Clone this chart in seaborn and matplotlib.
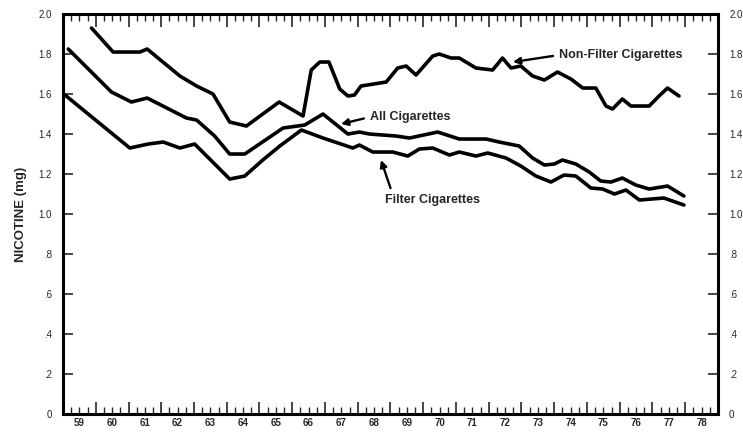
import numpy as np
import pandas as pd
import matplotlib
matplotlib.use("Agg")
import matplotlib.pyplot as plt
import seaborn as sns

# Sales-weighted nicotine per cigarette (year, mg)
nonfilter_year = [1959.87, 1960.53, 1961.35, 1961.57, 1962.57, 1963.08, 1963.58, 1964.09,
                  1964.60, 1965.60, 1966.33, 1966.58, 1966.84, 1967.12, 1967.45, 1967.70,
                  1967.90, 1968.10, 1968.87, 1969.22, 1969.48, 1969.78, 1970.29, 1970.49,
                  1970.85, 1971.10, 1971.61, 1972.12, 1972.42, 1972.68, 1972.98, 1973.34,
                  1973.70, 1974.10, 1974.51, 1974.87, 1975.27, 1975.58, 1975.78, 1976.08,
                  1976.34, 1976.90, 1977.20, 1977.46, 1977.81]
nonfilter_mg = [1.93, 1.81, 1.81, 1.825, 1.69, 1.64, 1.60, 1.46,
                1.44, 1.56, 1.49, 1.72, 1.76, 1.76, 1.625, 1.59,
                1.595, 1.64, 1.66, 1.73, 1.74, 1.695, 1.79, 1.80,
                1.78, 1.78, 1.73, 1.72, 1.78, 1.73, 1.74, 1.69,
                1.67, 1.71, 1.675, 1.63, 1.63, 1.54, 1.525, 1.575,
                1.54, 1.54, 1.59, 1.63, 1.59]

all_year = [1959.16, 1960.48, 1961.09, 1961.57, 1962.77, 1963.08, 1963.63, 1964.09,
            1964.55, 1965.72, 1966.38, 1966.94, 1967.70, 1968.05, 1968.36, 1969.17,
            1969.58, 1970.44, 1971.10, 1971.92, 1972.32, 1972.93, 1973.34, 1973.70,
            1974.00, 1974.25, 1974.66, 1975.07, 1975.42, 1975.73, 1976.08, 1976.49,
            1976.90, 1977.46, 1977.96]
all_mg = [1.825, 1.61, 1.56, 1.58, 1.48, 1.47, 1.39, 1.30,
          1.30, 1.43, 1.445, 1.50, 1.40, 1.41, 1.40, 1.39,
          1.38, 1.41, 1.375, 1.375, 1.36, 1.34, 1.28, 1.245,
          1.25, 1.27, 1.25, 1.21, 1.165, 1.16, 1.18, 1.145,
          1.125, 1.14, 1.09]

filter_year = [1959.06, 1961.04, 1961.60, 1962.06, 1962.57, 1963.02, 1964.09, 1964.55,
               1965.10, 1965.62, 1966.28, 1966.94, 1967.85, 1968.05, 1968.46, 1969.07,
               1969.53, 1969.88, 1970.29, 1970.80, 1971.10, 1971.61, 1971.97, 1972.53,
               1972.98, 1973.44, 1973.90, 1974.30, 1974.66, 1975.12, 1975.48, 1975.84,
               1976.19, 1976.60, 1977.35, 1977.96]
filter_mg = [1.595, 1.33, 1.35, 1.36, 1.33, 1.35, 1.175, 1.19,
             1.27, 1.34, 1.42, 1.38, 1.33, 1.345, 1.31, 1.31,
             1.29, 1.325, 1.33, 1.295, 1.31, 1.29, 1.305, 1.28,
             1.24, 1.19, 1.16, 1.195, 1.19, 1.13, 1.125, 1.10,
             1.12, 1.07, 1.08, 1.045]

year_labels = [str(y) for y in range(59, 79)]
y_ticks = [0, 0.2, 0.4, 0.6, 0.8, 1.0, 1.2, 1.4, 1.6, 1.8, 2.0]
y_labels = ["0", ".2", ".4", ".6", ".8", "1.0", "1.2", "1.4", "1.6", "1.8", "2.0"]

sns.set_style("white")
plt.rcParams["font.family"] = ["Liberation Sans", "DejaVu Sans"]

fig = plt.figure(figsize=(7.43, 4.34), dpi=100)
ax = fig.add_axes([0.0848, 0.046, 0.8815, 0.9217])

for yrs, vals in [(nonfilter_year, nonfilter_mg), (all_year, all_mg), (filter_year, filter_mg)]:
    sns.lineplot(x=yrs, y=vals, ax=ax, color="black", linewidth=2.6, estimator=None)

ax.set_xlim(1959, 1979)
ax.set_ylim(0, 2.0)

# year boundaries get long ticks, quarters short ones
ax.set_xticks(np.arange(1959, 1980), labels=[])
ax.set_xticks(np.arange(1959, 1979.01, 0.25), minor=True)
ax.tick_params(axis="x", which="major", direction="in", length=9, width=1.2, top=True, bottom=True)
ax.tick_params(axis="x", which="minor", direction="in", length=5, width=1.0, top=True, bottom=True)

secx = ax.secondary_xaxis("bottom")
secx.set_xticks(np.arange(1959, 1979) + 0.5, labels=year_labels)
secx.tick_params(length=0, pad=3, labelsize=7)
secx.spines["bottom"].set_visible(False)
for lab in secx.get_xticklabels():
    lab.set_fontweight("bold")

ax.set_yticks(y_ticks, labels=y_labels)
ax.tick_params(axis="y", direction="in", length=7, width=1.2, left=True, right=True,
               labelleft=True, labelright=True, labelsize=7, pad=8)

for side in ["left", "right", "top", "bottom"]:
    ax.spines[side].set_linewidth(2.2)
    ax.spines[side].set_color("black")

ax.set_ylabel("NICOTINE (mg)", fontsize=9.5, fontweight="bold", labelpad=8)

arrow = dict(arrowstyle="-|>", color="black", lw=1.7, mutation_scale=10, shrinkA=2, shrinkB=0)
ax.annotate("Non-Filter Cigarettes", xy=(1972.74, 1.76), xytext=(1974.15, 1.795),
            ha="left", va="center", fontsize=9, fontweight="bold",
            arrowprops=dict(arrow, relpos=(0, 0.5)))
ax.annotate("All Cigarettes", xy=(1967.49, 1.45), xytext=(1968.37, 1.485),
            ha="left", va="center", fontsize=9, fontweight="bold",
            arrowprops=dict(arrow, relpos=(0, 0.5)))
ax.annotate("Filter Cigarettes", xy=(1968.71, 1.27), xytext=(1968.83, 1.07),
            ha="left", va="center", fontsize=9, fontweight="bold",
            arrowprops=dict(arrow, relpos=(0.08, 1.0)))

fig.savefig("out.png", dpi=100, facecolor="white")
